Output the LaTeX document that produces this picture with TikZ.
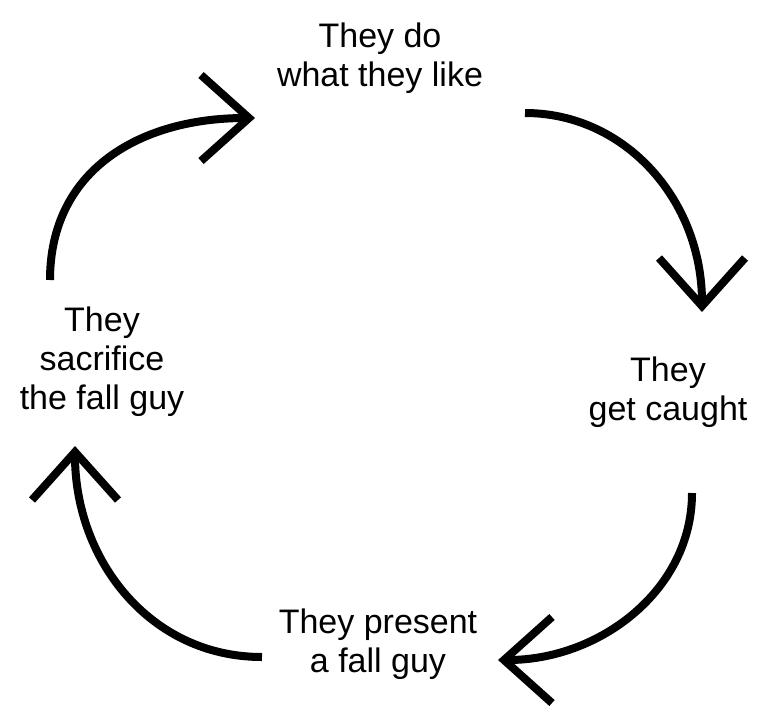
\documentclass[tikz,border=0pt]{standalone}
\usepackage{fontspec}
\setmainfont{Liberation Sans}
\usetikzlibrary{arrows.meta}
\begin{document}
\begin{tikzpicture}[x=1pt,y=-1pt,
  lbl/.style={align=center,font=\fontsize{34}{39}\selectfont,inner sep=0pt},
  cyc/.style={line width=8pt,-{Straight Barb[length=48pt,width=86pt,line width=8pt]}}]
\useasboundingbox (0,0) rectangle (773,724);
\node[lbl] (top) at (380,58) {They do\\what they like};
\node[lbl] (right) at (668,392) {They\\get caught};
\node[lbl] (bottom) at (378,644) {They present\\a fall guy};
\node[lbl] (left) at (102,362) {They\\sacrifice\\the fall guy};
\coordinate (a1s) at (50,280);
\coordinate (a1e) at (255,118);
\coordinate (a2s) at (525,113);
\coordinate (a2e) at (702,312);
\coordinate (a3s) at (692,493);
\coordinate (a3e) at (498,660);
\coordinate (a4s) at (262,657);
\coordinate (a4e) at (75,446);
\draw[cyc] (a1s) .. controls (50,170) and (140,118) .. (a1e);
\draw[cyc] (a2s) .. controls (625,113) and (702,200) .. (a2e);
\draw[cyc] (a3s) .. controls (692,590) and (600,660) .. (a3e);
\draw[cyc] (a4s) .. controls (150,657) and (75,560) .. (a4e);
\end{tikzpicture}
\end{document}
